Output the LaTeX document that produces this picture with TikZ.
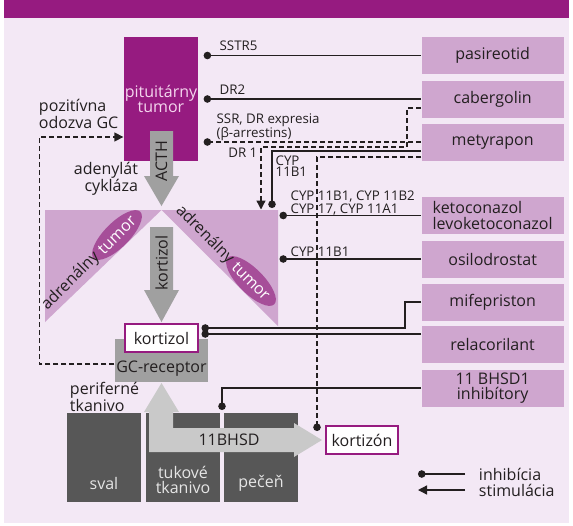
\documentclass[tikz,border=0pt]{standalone}
\usepackage{fontspec}
\setmainfont{Open Sans}
\usetikzlibrary{positioning,shapes.geometric,arrows.meta,calc}

\definecolor{bandpurple}{HTML}{961B80}
\definecolor{panelbg}{HTML}{F3E8F5}
\definecolor{drugbox}{HTML}{CFA6CF}
\definecolor{tumorpurple}{HTML}{A64E99}
\definecolor{arrowgray}{HTML}{A0A0A0}
\definecolor{pathgray}{HTML}{C9C9C9}
\definecolor{tissuegray}{HTML}{575757}
\definecolor{ink}{HTML}{231F20}
\definecolor{pinkink}{HTML}{F4D6EE}

\newcommand{\bigtxt}{\fontsize{16}{15}\selectfont}
\newcommand{\smalltxt}{\fontsize{13.3}{10.5}\selectfont}

\tikzset{
  drug/.style={fill=drugbox, minimum width=142pt, minimum height=37pt, inner sep=0pt, align=center, anchor=west},
  hormone/.style={draw=bandpurple, line width=2pt, fill=white, minimum width=73pt, minimum height=28pt, inner sep=0pt},
  tissue/.style={fill=tissuegray, minimum width=74pt, minimum height=89pt, inner sep=0pt},
  tissuetxt/.style={text=white!90!black, align=center, inner sep=0pt},
  tumorel/.style={ellipse, fill=tumorpurple, text=white, minimum width=56pt, minimum height=25pt, inner sep=0pt},
  sitelbl/.style={font=\smalltxt, inner sep=0pt, align=left, anchor=west},
  inhib/.style={-{Circle[length=7.5pt]}},
  stim/.style={-{Triangle[length=9pt,width=9pt]}},
  fb/.style={dash pattern=on 5pt off 3pt}
}

\begin{document}
\begin{tikzpicture}[x=1pt, y=-1pt, line width=1.3pt, font=\bigtxt, color=ink]
\useasboundingbox (0,0) rectangle (573,525);
\fill[panelbg] (4,0) rectangle (569,523);
\fill[bandpurple] (4,0) rectangle (569,18);

% hypofyza
\node[fill=bandpurple, text=pinkink, minimum width=74pt, minimum height=124pt, align=center, inner sep=0pt] (pit) at (161,99) {pituit\'arny\\tumor};
\fill[arrowgray] (150,131) -- (173,131) -- (173,176) -- (179,176) -- (161.5,206) -- (144,176) -- (150,176) -- cycle;
\node[rotate=90] (acth) at (161.5,161) {ACTH};
\node[anchor=east, align=right] (aden) at (142,179) {adenyl\'at\\cykl\'aza};
\node[anchor=west, align=left] (poz) at (35,113.5) {pozit\'ivna\\odozva GC};

% nadobliecky
\fill[drugbox] (45,210) -- (161.5,210) -- (45,322) -- cycle;
\fill[drugbox] (161.5,210) -- (278,210) -- (278,326) -- cycle;
\coordinate (adrcorner) at (278,210);
\node[tumorel, rotate=45] (tumL) at (117,235) {tumor};
\node[rotate=45, anchor=east, inner sep=0pt] (adrL) at ($(tumL.west)!6pt!(tumL.center)$) {adren\'alny};
\node[tumorel, rotate=-45] (tumR) at (251,281) {tumor};
\node[rotate=-45, anchor=east, inner sep=0pt] (adrR) at ($(tumR.west)!6pt!(tumR.center)$) {adren\'alny};
\fill[arrowgray] (150,227) -- (173,227) -- (173,290) -- (179,290) -- (161.5,322) -- (144,290) -- (150,290) -- cycle;
\node[rotate=90] (kortlbl) at (161.5,263) {kortizol};

% receptor
\node[fill=arrowgray, minimum width=93pt, minimum height=43pt, inner sep=0pt] (gcr) at (161.5,360.5) {};
\node (gclbl) at (161.5,369) {GC-receptor};
\node[hormone] (kortizol) at (161.5,338) {kortizol};

% periferne tkanivo
\node[anchor=west, align=left, font=\fontsize{16}{14}\selectfont] (perif) at (66,397) {perifern\'e\\tkanivo};
\node[tissue] (sval) at (104,457.5) {};
\node[tissue] (tuk) at (183,457.5) {};
\node[tissue] (pec) at (261,457.5) {};
\node[tissuetxt] (svallbl) at (104,483) {sval};
\node[tissuetxt] (tuklbl) at (183,480) {tukov\'e\\tkanivo};
\node[tissuetxt] (peclbl) at (261,483) {pe\v{c}e\v{n}};
\fill[pathgray] (161.5,383) -- (179,412) -- (173,412) -- (173,428) -- (294,428) -- (294,423) -- (322,440) -- (294,457) -- (294,452) -- (149,452) -- (149,412) -- (144,412) -- cycle;
\node (bhsdlbl) at (229,440) {11BHSD};
\node[hormone, minimum width=72pt] (kortizon) at (362,440) {kortiz\'on};

% lieky
\node[drug] (pas) at (421,55.5) {pasireotid};
\node[drug] (cab) at (421,99) {cabergolin};
\node[drug] (met) at (421,142) {metyrapon};
\node[drug, align=left, font=\fontsize{16}{16.5}\selectfont] (keto) at (421,215.5) {ketoconazol\\levoketoconazol};
\node[drug] (osi) at (421,259) {osilodrostat};
\node[drug] (mife) at (421,302) {mifepriston};
\node[drug] (rela) at (421,344.5) {relacorilant};
\node[drug] (bhsd) at (421,388) {11 BHSD1\\inhib\'itory};

\coordinate (drtip) at (261,209.5);
\coordinate (metend) at (272,208);
\coordinate (kzdot) at ($(kortizon.north west)+(-8,6)$);
\coordinate (bhsdend) at (222,410);

\draw[inhib] (pas.west) -- ([xshift=5pt]pas.west -| pit.east);
\draw[inhib] (cab.west) -- ([xshift=5pt]cab.west -| pit.east);
\draw[inhib, fb] (met.west) -- ([xshift=5pt]met.west -| pit.east);
\draw[stim, fb] ($(cab.west)+(0,9)$) -| ($(cab.west)+(-14,48)$) -| (drtip);
\draw[inhib] ($(met.west)+(0,9)$) -| (metend);
\draw[inhib, fb] ($(met.west)+(0,15)$) -| (kzdot);
\draw[inhib] (keto.west) -- ($(keto.west -| adrcorner)+(1.5,0)$);
\draw[inhib] (osi.west) -- ($(osi.west -| adrcorner)+(1.5,0)$);
\draw[inhib] (mife.west) -- ++(-16,0) |- ($(kortizol.east)+(2.5,-10)$);
\draw[inhib] ($(rela.west)+(0,-10.5)$) -- ($(kortizol.east)+(2.5,-4)$);
\draw[inhib] (bhsd.west) -| (bhsdend);
\draw[stim, fb] ($(gcr.west)+(0,3.5)$) -| ($(pit.west)+(-84,38)$) -- ($(pit.west)+(0,38)$);

\node[sitelbl] (sstrlbl) at (219,46) {SSTR5};
\node[sitelbl] (dr2lbl) at (219,90) {DR2};
\node[sitelbl] (ssrlbl) at (216,127) {SSR, DR expresia\\(β-arrestins)};
\node[sitelbl, anchor=east] (dr1lbl) at (258,153) {DR 1};
\node[sitelbl] (cyplbl) at (275,166) {CYP\\11B1};
\node[sitelbl] (ketolbl) at (290,203) {CYP 11B1, CYP 11B2\\CYP 17, CYP 11A1};
\node[sitelbl] (osilbl) at (290,252) {CYP 11B1};

% legenda
\node[anchor=west] (inhlbl) at (475,474) {inhib\'icia};
\node[anchor=west] (stimlbl) at (475,490) {stimul\'acia};
\draw[inhib] ($(inhlbl.west)+(-10,0)$) -- ($(inhlbl.west)+(-57,0)$);
\draw[stim] ($(stimlbl.west)+(-10,0)$) -- ($(stimlbl.west)+(-57,0)$);
\end{tikzpicture}
\end{document}
